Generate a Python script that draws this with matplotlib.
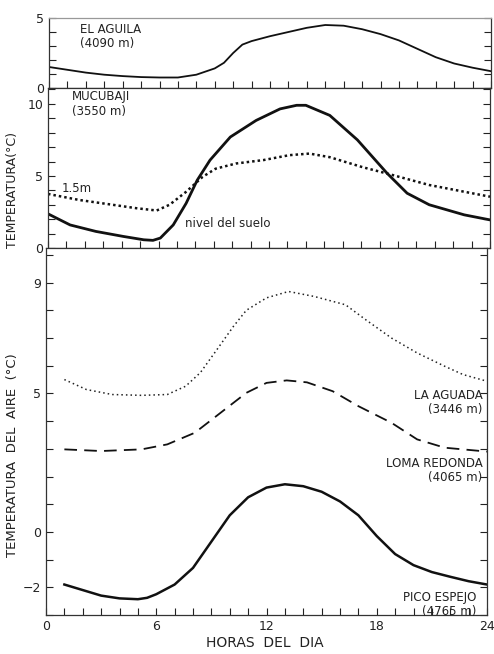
import numpy as np
import matplotlib
matplotlib.use("Agg")
import matplotlib.pyplot as plt
from matplotlib.ticker import MultipleLocator

# El Aguila (4090 m)
h_aguila = [0, 1, 2, 3, 4, 5, 6, 7, 8, 9, 9.5, 10, 10.5, 11, 12, 13, 14, 15, 16, 17, 18, 19, 20, 21, 22, 23, 24]
t_aguila = [1.5, 1.3, 1.1, 0.95, 0.85, 0.78, 0.75, 0.75, 0.95, 1.4, 1.8, 2.5, 3.1, 3.35, 3.7, 4.0, 4.3, 4.5,
            4.45, 4.2, 3.85, 3.4, 2.8, 2.2, 1.75, 1.45, 1.2]

# Mucubaji (3550 m), nivel del suelo
h_suelo = [0, 1.2, 2.6, 4.1, 5.2, 5.7, 6.1, 6.8, 7.5, 8.1, 8.8, 9.9, 11.3, 12.6, 13.5, 14.0, 15.3, 16.8,
           18.4, 19.5, 20.7, 22.6, 24]
t_suelo = [2.37, 1.6, 1.15, 0.8, 0.57, 0.53, 0.69, 1.6, 3.1, 4.7, 6.1, 7.7, 8.85, 9.65, 9.9, 9.9, 9.2, 7.5,
           5.2, 3.8, 3.0, 2.3, 1.95]

# Mucubaji, 1.5 m
h_15m = [0, 1.7, 3.5, 4.8, 5.9, 6.6, 7.5, 8.4, 9.1, 10.2, 11.7, 13.1, 14.2, 15.3, 17.1, 18.4, 20.7, 24]
t_15m = [3.75, 3.33, 3.0, 2.76, 2.6, 3.0, 3.9, 4.94, 5.5, 5.86, 6.1, 6.44, 6.55, 6.3, 5.6, 5.17, 4.37, 3.56]

# La Aguada (3446 m)
h_laguada = [1, 2.2, 3.6, 5.2, 6.6, 7.6, 8.4, 9.3, 10.2, 10.9, 12.0, 13.2, 14.6, 16.3, 17.4, 18.8, 20.2,
             21.7, 22.7, 24]
t_laguada = [5.5, 5.14, 4.96, 4.93, 4.96, 5.26, 5.75, 6.58, 7.42, 8.0, 8.45, 8.68, 8.5, 8.2, 7.66, 7.0, 6.46,
             5.98, 5.68, 5.44]

# Loma Redonda (4065 m)
h_loma = [1, 3, 5.2, 6.6, 8.1, 9.5, 10.9, 12.0, 13.1, 14.2, 15.6, 17.0, 18.8, 20.2, 21.7, 24]
t_loma = [2.98, 2.92, 2.98, 3.16, 3.58, 4.3, 5.02, 5.38, 5.47, 5.4, 5.08, 4.54, 3.94, 3.34, 3.04, 2.9]

# Pico Espejo (4765 m)
h_pico = [1, 2, 3, 4, 5, 5.5, 6, 7, 8, 9, 10, 11, 12, 13, 14, 15, 16, 17, 18, 19, 20, 21, 22, 23, 24]
t_pico = [-1.9, -2.1, -2.3, -2.4, -2.43, -2.38, -2.25, -1.9, -1.3, -0.35, 0.6, 1.25, 1.6, 1.72, 1.65, 1.45,
          1.1, 0.6, -0.15, -0.8, -1.2, -1.45, -1.62, -1.78, -1.9]

W, H = 494, 654
fig = plt.figure(figsize=(W / 100, H / 100), dpi=100)
plt.rcParams['font.family'] = ['DejaVu Sans']


def box(left, top, right, bottom):
    return [left / W, 1 - bottom / H, (right - left) / W, (bottom - top) / H]


ax1 = fig.add_axes(box(49, 18, 491, 88))
ax2 = fig.add_axes(box(48, 88, 490, 248))
ax3 = fig.add_axes(box(46, 248, 487, 615))

for ax in (ax1, ax2, ax3):
    ax.set_xlim(0, 24)
    ax.xaxis.set_major_locator(MultipleLocator(6))
    ax.xaxis.set_minor_locator(MultipleLocator(1))
    ax.yaxis.set_minor_locator(MultipleLocator(1))
    ax.tick_params(which='both', direction='in', top=False, right=True, labelsize=9,
                   colors='#222222', width=0.8)
    ax.tick_params(which='major', length=5)
    ax.tick_params(which='minor', length=5)
    for s in ax.spines.values():
        s.set_color('#333333')
        s.set_linewidth(0.9)

# panel 1
ax1.plot(h_aguila, t_aguila, color='#111111', lw=1.3)
ax1.set_ylim(0, 5)
ax1.set_yticks([0, 5])
ax1.tick_params(labelbottom=False)
ax1.spines['top'].set_color('#999999')
ax1.text(0.07, 0.93, "EL AGUILA\n(4090 m)", transform=ax1.transAxes, va='top', ha='left',
         fontsize=8.5, color='#222222', linespacing=1.15)

# panel 2
ax2.plot(h_suelo, t_suelo, color='#111111', lw=2.0)
ax2.plot(h_15m, t_15m, color='#111111', lw=1.8, linestyle=(0, (1, 1.2)))
ax2.set_ylim(0, 11.1)
ax2.set_yticks([0, 5, 10])
ax2.tick_params(labelbottom=False)
ax2.text(0.055, 0.985, "MUCUBAJI\n(3550 m)", transform=ax2.transAxes, va='top', ha='left',
         fontsize=8.5, color='#222222', linespacing=1.15)
ax2.text(0.03, 0.375, "1.5m", transform=ax2.transAxes, va='center', ha='left',
         fontsize=8.5, color='#222222')
ax2.text(0.31, 0.155, "nivel del suelo", transform=ax2.transAxes, va='center', ha='left',
         fontsize=8.5, color='#222222')

# panel 3
ax3.plot(h_laguada, t_laguada, color='#222222', lw=1.1, linestyle=(0, (1, 2)))
ax3.plot(h_loma, t_loma, color='#111111', lw=1.3, linestyle=(0, (7, 4)))
ax3.plot(h_pico, t_pico, color='#111111', lw=1.8)
ax3.set_ylim(-3, 10.25)
ax3.set_yticks([-2, 0, 5, 9])
ax3.set_xticks([0, 6, 12, 18, 24])
ax3.set_xticklabels(['0', '6', '12', '18', '24'])
ax3.yaxis.set_minor_locator(MultipleLocator(1))
txt = dict(transform=ax3.transAxes, ha='right', va='top', fontsize=8.5, color='#222222',
           multialignment='right', linespacing=1.1)
ax3.text(0.99, 0.615, "LA AGUADA\n(3446 m)", **txt)
ax3.text(0.99, 0.43, "LOMA REDONDA\n(4065 m)", **txt)
ax3.text(0.975, 0.065, "PICO ESPEJO\n(4765 m)", **txt)

fig.text(0.026, 1 - 190 / H, "TEMPERATURA(°C)", rotation=90, ha='center', va='center',
         fontsize=9, color='#222222')
fig.text(0.026, 1 - 455 / H, "TEMPERATURA  DEL  AIRE  (°C)", rotation=90, ha='center', va='center',
         fontsize=9.5, color='#222222')
fig.text(0.536, 1 - 643 / H, "HORAS  DEL  DIA", ha='center', va='center', fontsize=10,
         color='#222222')

fig.savefig("out.png", dpi=100)
